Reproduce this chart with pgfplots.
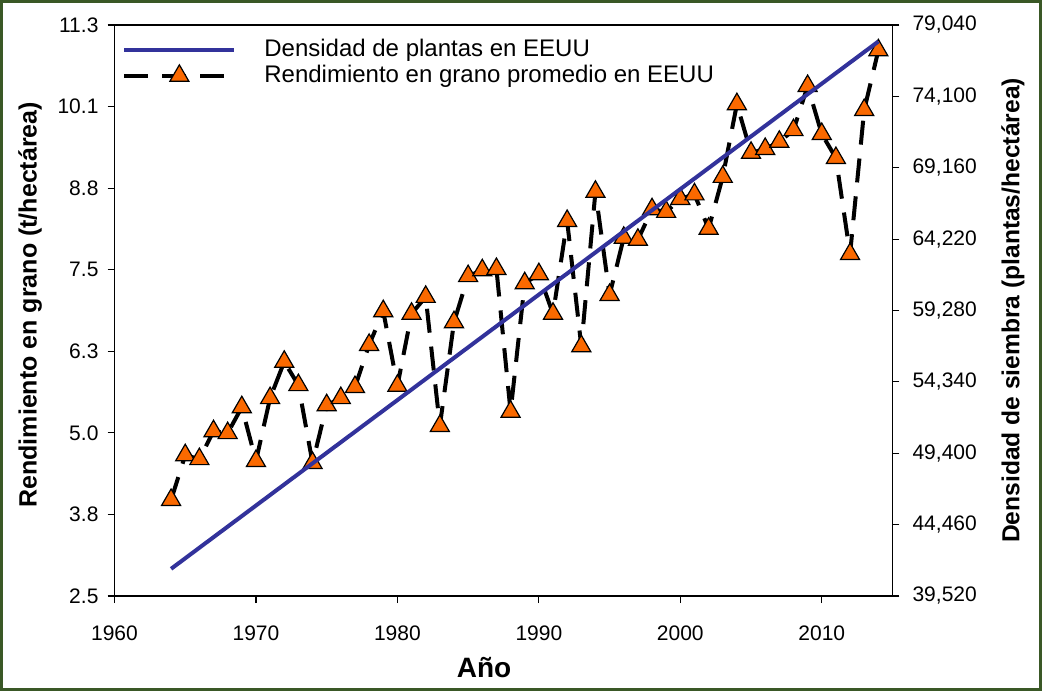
\documentclass[border=0pt]{standalone}
\usepackage{fontspec}
\setmainfont{Liberation Sans}
\usepackage{pgfplots}
\usepackage{pgfplotstable}
\pgfplotsset{compat=1.18}
\definecolor{densblue}{RGB}{50,50,155}
\definecolor{markorange}{RGB}{250,105,0}
\definecolor{framegreen}{RGB}{58,88,38}

\pgfplotstableread{
year yield
1964 3.98
1965 4.67
1966 4.61
1967 5.04
1968 5.01
1969 5.41
1970 4.58
1971 5.55
1972 6.11
1973 5.75
1974 4.55
1975 5.44
1976 5.55
1977 5.72
1978 6.37
1979 6.89
1980 5.74
1981 6.85
1982 7.11
1983 5.12
1984 6.72
1985 7.43
1986 7.52
1987 7.54
1988 5.34
1989 7.32
1990 7.46
1991 6.85
1992 8.28
1993 6.35
1994 8.73
1995 7.14
1996 8.02
1997 7.99
1998 8.46
1999 8.42
2000 8.62
2001 8.69
2002 8.16
2003 8.96
2004 10.08
2005 9.33
2006 9.39
2007 9.50
2008 9.68
2009 10.36
2010 9.62
2011 9.25
2012 7.77
2013 9.99
2014 10.91
}\yieldtable

\pgfplotstableread{
year density
1964 41400
2014 77900
}\densitytable

\pgfplotsset{
  yieldstyle/.style={black, line width=2pt, dash pattern=on 12pt off 7pt, line join=round,
    mark=triangle*, mark size=5.5pt,
    mark options={solid, fill=markorange, draw=black, line width=0.6pt, line join=miter}},
  common/.style={
    scale only axis, width=389pt, height=285.5pt,
    xmin=1960, xmax=2015,
    axis line style={line width=0.6pt},
    tick style={line width=0.6pt, black},
    tick align=outside, major tick length=3.5pt,
    tick label style={font=\fontsize{10.5}{12}\selectfont},
  },
}

\begin{document}
\begin{tikzpicture}
\begin{axis}[
  common,
  ymin=2.5, ymax=11.3,
  xtick={1960,1970,1980,1990,2000,2010},
  xticklabels={1960,1970,1980,1990,2000,2010},
  xticklabel style={yshift=-8pt},
  yticklabel style={xshift=-1pt},
  xtick pos=bottom, ytick pos=left,
  ytick={2.5, 3.757142857, 5.014285714, 6.271428571, 7.528571429, 8.785714286, 10.04285714, 11.3},
  yticklabels={2.5,3.8,5.0,6.3,7.5,8.8,10.1,11.3},
  xlabel={Año},
  ylabel={Rendimiento en grano (t/hectárea)},
  xlabel style={font=\bfseries\fontsize{14}{16}\selectfont, at={(axis description cs:0.475,-0.1436)}, anchor=base},
  ylabel style={font=\bfseries\fontsize{12.5}{14}\selectfont, at={(axis description cs:-0.1086,0.51)}, anchor=center},
  clip=false,
]
\addplot[yieldstyle] table[x=year,y=yield]{\yieldtable};
\end{axis}
\begin{axis}[
  common,
  ymin=39520, ymax=79040,
  scaled y ticks=false,
  xtick=\empty,
  ytick pos=right,
  ytick={39520,44460,49400,54340,59280,64220,69160,74100,79040},
  yticklabels={{39,520},{44,460},{49,400},{54,340},{59,280},{64,220},{69,160},{74,100},{79,040}},
  yticklabel style={xshift=3pt},
  ylabel={Densidad de siembra (plantas/hectárea)},
  ylabel style={font=\bfseries\fontsize{12.3}{14}\selectfont, at={(axis description cs:1.1549,0.5)}, anchor=center, rotate=0},
  legend style={draw=none, fill=none, at={(axis description cs:0.0096,0.9772)}, anchor=north west,
    font=\fontsize{12}{14}\selectfont, inner sep=0pt, row sep=1.6pt,
    nodes={inner sep=0pt, text depth=2.6pt, text height=8.8pt},
    /tikz/every odd column/.append style={column sep=14pt}},
  legend cell align=left,
  legend image code/.code={\draw[mark repeat=2, mark phase=2, #1] plot coordinates {(0pt,0pt) (27.5pt,0pt) (55pt,0pt)};},
  clip=false,
]
\addplot[densblue, line width=2pt] table[x=year,y=density]{\densitytable};
\addlegendentry{Densidad de plantas en EEUU}
\addlegendimage{yieldstyle}
\addlegendentry{Rendimiento en grano promedio en EEUU}
\end{axis}
\draw[framegreen, line width=1.5pt] (-56.5pt,-46.75pt) rectangle (463pt,297.25pt);
\pgfresetboundingbox
\useasboundingbox (-57.25pt,-47.5pt) rectangle (463.75pt,298pt);
\end{tikzpicture}
\end{document}
